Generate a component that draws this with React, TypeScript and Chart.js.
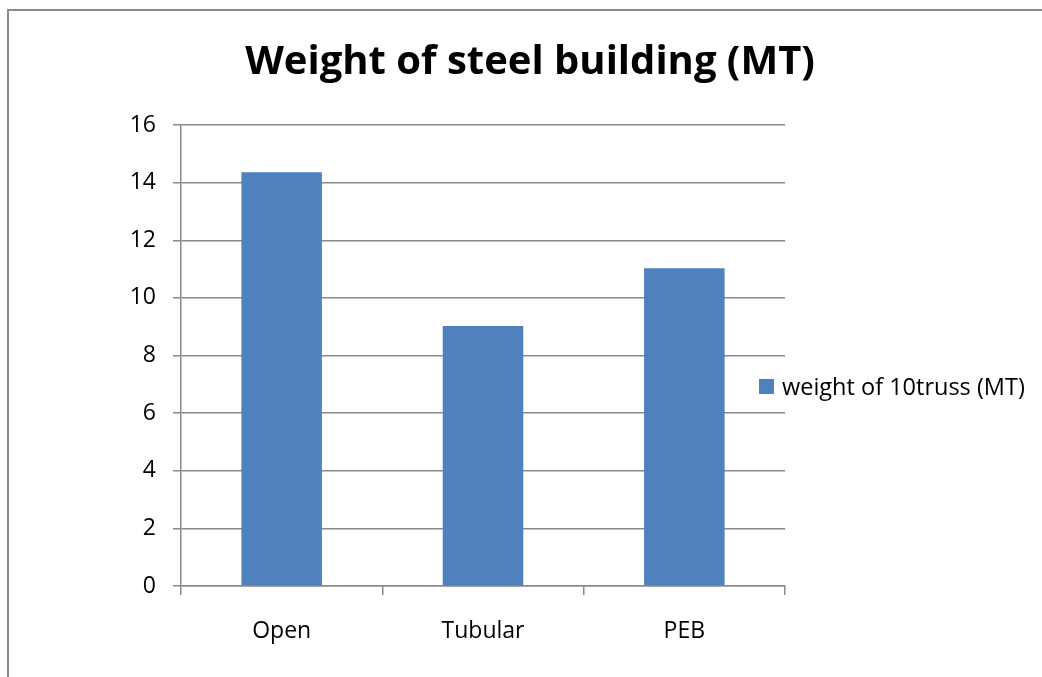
import React, { useEffect, useRef } from 'react';
import { Chart, registerables } from 'chart.js';

Chart.register(...registerables);

const titleText = 'Weight of steel building (MT)';
const categories = ['Open', 'Tubular', 'PEB'];
const seriesLabel = 'weight of 10truss (MT)';
const weights = [14.36, 9.02, 11.03];
const yMin = 0;
const yMax = 16;
const yStep = 2;

const BAR_COLOR = '#4F81BD';
const GRID_COLOR = '#8a8a8a';
const FONT = '"Open Sans", "DejaVu Sans", sans-serif';

const sideLegend = {
  id: 'sideLegend',
  afterDraw(chart: any) {
    const ctx = chart.ctx as CanvasRenderingContext2D;
    const ds = chart.data.datasets[0];
    const x = chart.chartArea.right - 26;
    const y = 386.5;
    ctx.save();
    ctx.fillStyle = ds.backgroundColor;
    ctx.fillRect(x, y - 7.5, 15, 15);
    ctx.font = `23.5px ${FONT}`;
    ctx.fillStyle = '#000';
    ctx.textBaseline = 'middle';
    ctx.textAlign = 'left';
    ctx.fillText(ds.label, x + 23, y + 1.5);
    ctx.restore();
  },
};

export default function App() {
  const ref = useRef<HTMLCanvasElement | null>(null);

  useEffect(() => {
    if (!ref.current) return;
    const chart = new Chart(ref.current, {
      type: 'bar',
      data: {
        labels: categories,
        datasets: [
          {
            label: seriesLabel,
            data: weights,
            backgroundColor: BAR_COLOR,
            borderWidth: 0,
            categoryPercentage: 1,
            barPercentage: 0.4,
          },
        ],
      },
      options: {
        responsive: false,
        animation: false,
        devicePixelRatio: 1,
        layout: { padding: { left: 18, top: 0, right: 0, bottom: 21 } },
        plugins: {
          legend: { display: false },
          tooltip: { enabled: false },
          title: {
            display: true,
            text: titleText,
            color: '#000',
            font: { family: FONT, size: 40, weight: 'bold', lineHeight: 1.2 },
            padding: { top: 39, bottom: 38 },
          },
        },
        scales: {
          x: {
            type: 'category',
            offset: true,
            grid: {
              display: true,
              drawOnChartArea: false,
              drawTicks: true,
              tickLength: 9,
              color: GRID_COLOR,
              lineWidth: 1.5,
              offset: true,
            },
            border: { display: true, color: GRID_COLOR, width: 1.5 },
            ticks: { color: '#000', font: { family: FONT, size: 23 }, padding: 23 },
            afterFit: (s: any) => {
              s.height = 70;
            },
          },
          y: {
            type: 'linear',
            position: 'left',
            min: yMin,
            max: yMax,
            ticks: { stepSize: yStep, color: '#000', font: { family: FONT, size: 23 }, padding: 17 },
            grid: { color: GRID_COLOR, lineWidth: 1.5, tickLength: 8, drawTicks: true },
            border: { display: true, color: GRID_COLOR, width: 1.5 },
            afterFit: (s: any) => {
              s.width = 163;
            },
          },
          spacer: {
            type: 'linear',
            position: 'right',
            display: true,
            grid: { display: false, drawTicks: false },
            border: { display: false },
            ticks: { display: false },
            afterFit: (s: any) => {
              s.width = 257;
            },
          },
        },
      },
      plugins: [sideLegend],
    });
    return () => chart.destroy();
  }, []);

  return (
    <div style={{ position: 'absolute', left: 0, top: 0, width: 1042, height: 677, overflow: 'hidden', background: '#fff' }}>
      <div
        style={{
          position: 'absolute',
          left: 7,
          top: 9,
          width: 1100,
          height: 700,
          borderTop: '2px solid #8a8a8a',
          borderLeft: '2px solid #8a8a8a',
          boxSizing: 'border-box',
        }}
      />
      <canvas ref={ref} width={1042} height={677} style={{ position: 'absolute', left: 0, top: 0, display: 'block' }} />
    </div>
  );
}
